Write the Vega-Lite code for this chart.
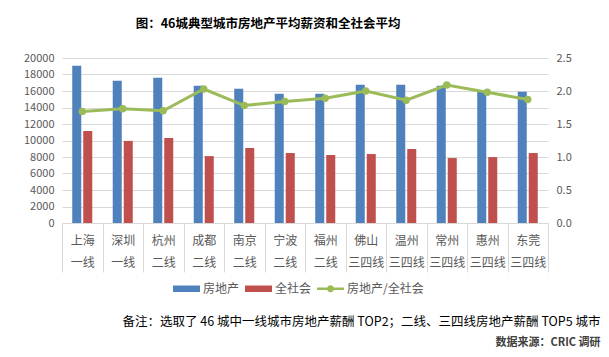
{
  "$schema": "https://vega.github.io/schema/vega-lite/v6.json",
  "width": 486,
  "height": 165,
  "autosize": {"type": "none"},
  "padding": {"left": 62, "top": 58, "right": 61, "bottom": 134},
  "background": "white",
  "config": {"view": {"stroke": null}, "font": "Noto Sans CJK SC"},
  "title": {
    "text": "图：46城典型城市房地产平均薪资和全社会平均",
    "font": "Noto Sans CJK SC",
    "fontSize": 12.5,
    "fontWeight": "bold",
    "color": "#000000",
    "anchor": "middle",
    "dx": -37,
    "baseline": "middle",
    "offset": 16
  },
  "data": {
    "values": [
      {"city": "上海 一线", "房地产": 19050, "全社会": 11150, "ratio": 1.69},
      {"city": "深圳 一线", "房地产": 17250, "全社会": 9950, "ratio": 1.73},
      {"city": "杭州 二线", "房地产": 17600, "全社会": 10300, "ratio": 1.70},
      {"city": "成都 二线", "房地产": 16630, "全社会": 8110, "ratio": 2.03},
      {"city": "南京 二线", "房地产": 16270, "全社会": 9090, "ratio": 1.78},
      {"city": "宁波 二线", "房地产": 15660, "全社会": 8480, "ratio": 1.84},
      {"city": "福州 二线", "房地产": 15660, "全社会": 8240, "ratio": 1.89},
      {"city": "佛山 三四线", "房地产": 16750, "全社会": 8360, "ratio": 2.00},
      {"city": "温州 三四线", "房地产": 16750, "全社会": 8970, "ratio": 1.86},
      {"city": "常州 三四线", "房地产": 16630, "全社会": 7870, "ratio": 2.09},
      {"city": "惠州 三四线", "房地产": 15900, "全社会": 7990, "ratio": 1.98},
      {"city": "东莞 三四线", "房地产": 15900, "全社会": 8480, "ratio": 1.87}
    ]
  },
  "encoding": {
    "x": {
      "field": "city",
      "type": "nominal",
      "sort": null,
      "scale": {"paddingInner": 0, "paddingOuter": 0},
      "axis": {
        "title": "备注：选取了 46 城中一线城市房地产薪酬 TOP2；二线、三四线房地产薪酬 TOP5 城市",
        "titleFont": "Noto Sans CJK SC",
        "titleFontSize": 12.5,
        "titleFontWeight": "normal",
        "titleColor": "#000000",
        "titleX": 538,
        "titleY": 98,
        "titleAlign": "right",
        "titleBaseline": "middle",
        "labelExpr": "datum.value ? split(datum.value, ' ') : ''",
        "labelLineHeight": 22,
        "labelFontSize": 12,
        "labelColor": "#595959",
        "labelAngle": 0,
        "labelBaseline": "top",
        "labelPadding": -37,
        "labelOverlap": false,
        "labelBound": false,
        "labelFlush": false,
        "tickSize": 49,
        "tickBand": "extent",
        "tickColor": "#D9D9D9",
        "domainColor": "#D9D9D9",
        "grid": false
      }
    }
  },
  "layer": [
    {
      "transform": [{"fold": ["房地产", "全社会"], "as": ["series", "value"]}],
      "mark": {"type": "bar"},
      "encoding": {
        "xOffset": {
          "field": "series",
          "type": "nominal",
          "scale": {"domain": ["房地产", "全社会"], "paddingInner": 0.18, "paddingOuter": 0.93}
        },
        "y": {
          "field": "value",
          "type": "quantitative",
          "scale": {"domain": [0, 20000], "nice": false},
          "axis": {
            "title": null,
            "orient": "left",
            "values": [0, 2000, 4000, 6000, 8000, 10000, 12000, 14000, 16000, 18000, 20000],
            "format": "d",
            "grid": true,
            "gridColor": "#D9D9D9",
            "domain": false,
            "ticks": false,
            "labelPadding": 8,
            "labelFontSize": 11,
            "labelColor": "#595959"
          }
        },
        "color": {
          "field": "series",
          "type": "nominal",
          "scale": {
            "domain": ["房地产", "全社会", "房地产/全社会"],
            "range": ["#4F81BD", "#C0504D", "#9BBB59"]
          },
          "legend": {
            "title": null,
            "orient": "none",
            "direction": "horizontal",
            "legendX": 111,
            "legendY": 217,
            "padding": 0,
            "symbolSize": 729,
            "labelOffset": 3,
            "columnPadding": 5,
            "labelFontSize": 12,
            "labelColor": "#595959",
            "labelFont": "Noto Sans CJK SC",
            "encode": {
              "symbols": {
                "update": {
                  "shape": {"signal": "datum.value === '房地产/全社会' ? 'M-1,-0.1H1V0.1H-1Z M0.26,0A0.26,0.26,0,1,1,-0.26,0A0.26,0.26,0,1,1,0.26,0Z' : 'M-1,-0.24H1V0.24H-1Z'"},
                  "fill": {"scale": "color", "field": "value"},
                  "strokeWidth": {"value": 0},
                  "opacity": {"value": 1},
                  "size": {"value": 729}
                }
              }
            }
          }
        }
      }
    },
    {
      "mark": {
        "type": "line",
        "strokeWidth": 3,
        "point": {"filled": true, "size": 55, "color": "#9BBB59"}
      },
      "encoding": {
        "y": {
          "field": "ratio",
          "type": "quantitative",
          "scale": {"domain": [0, 2.5], "nice": false},
          "axis": {
            "orient": "right",
            "title": "数据来源：CRIC 调研",
            "titleAngle": 0,
            "titleX": 52,
            "titleY": 284,
            "titleAlign": "right",
            "titleBaseline": "middle",
            "titleFontSize": 11,
            "titleFontWeight": "bold",
            "titleColor": "#404040",
            "values": [0, 0.5, 1, 1.5, 2, 2.5],
            "format": ".1f",
            "grid": false,
            "domain": false,
            "ticks": false,
            "labelPadding": 8,
            "labelFontSize": 11,
            "labelColor": "#595959"
          }
        },
        "color": {"datum": "房地产/全社会"}
      }
    }
  ],
  "resolve": {"scale": {"y": "independent"}}
}
